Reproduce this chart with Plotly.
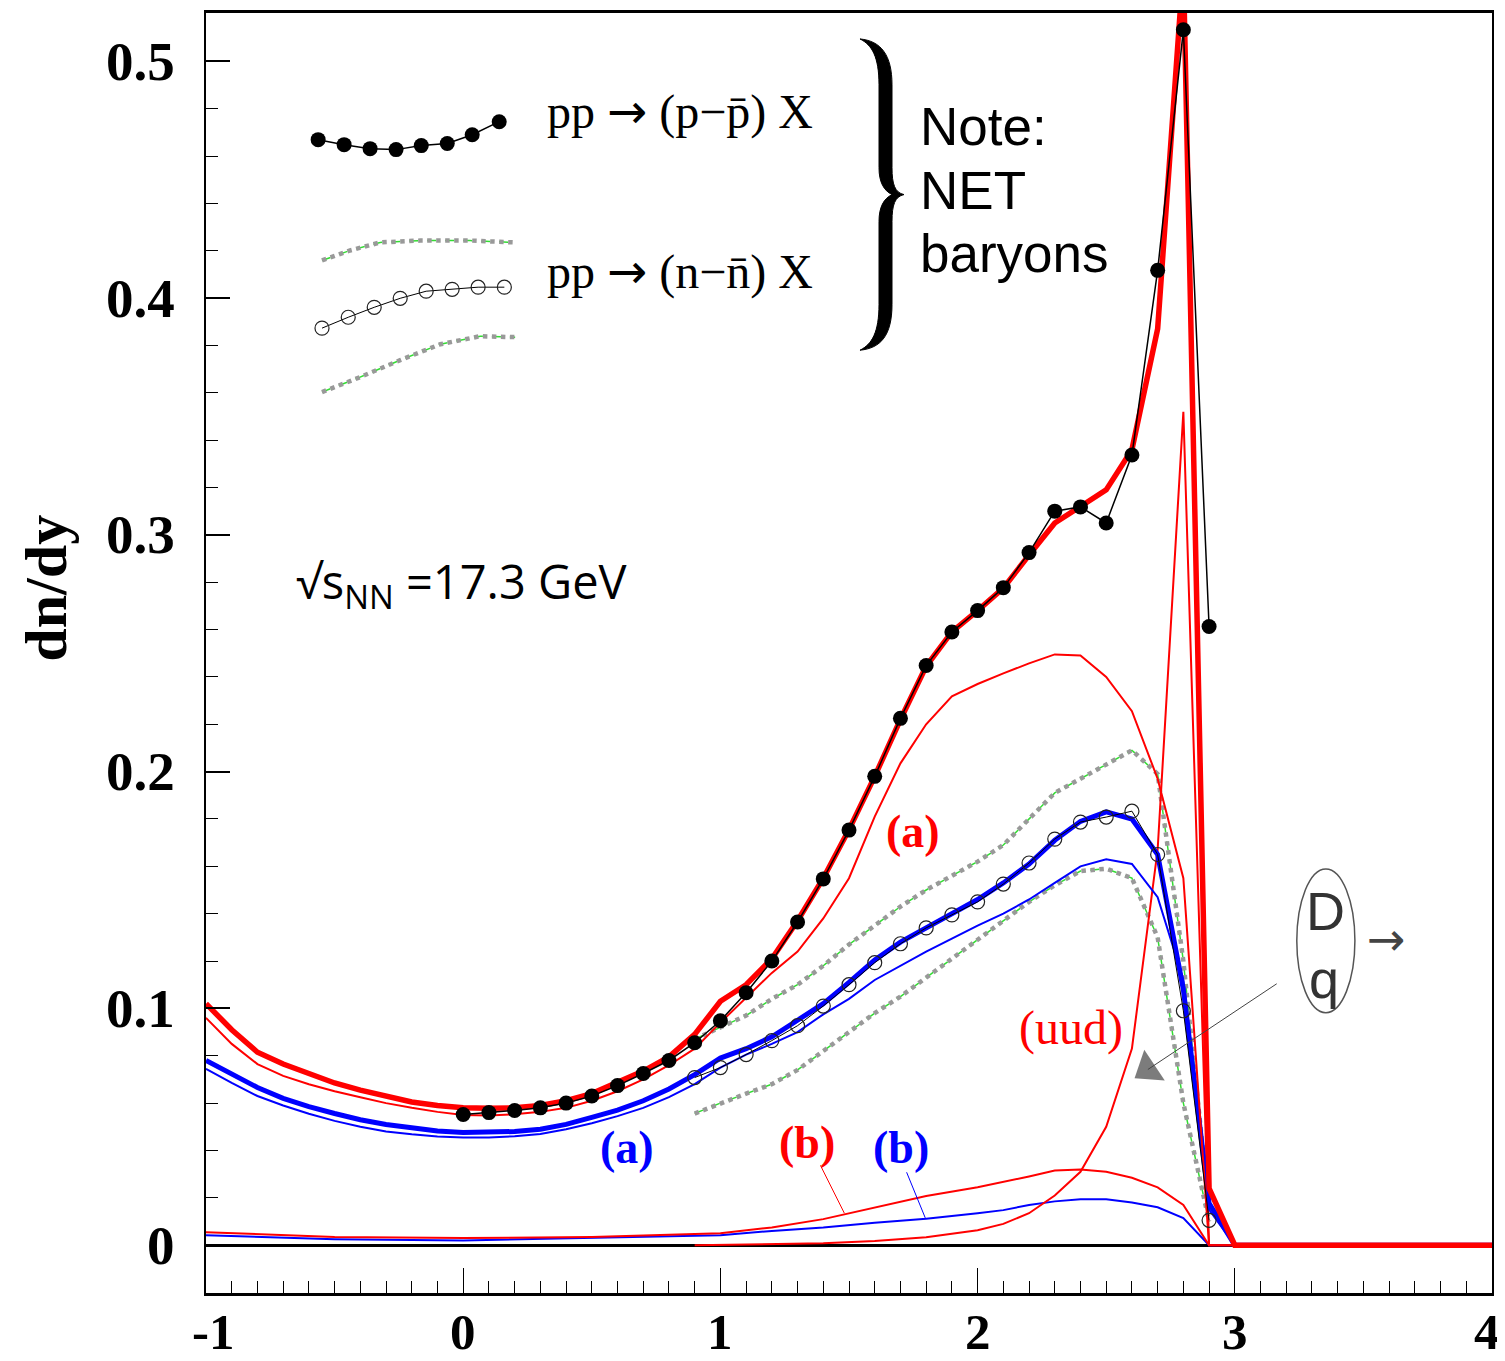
import plotly.graph_objects as go

# ---------------- data ----------------
# measured pp -> (p - pbar) X  (net protons)
x_pp = [round(0.1 * i, 1) for i in range(30)]
y_pp = [0.0552, 0.056, 0.0569, 0.058, 0.060, 0.063, 0.0674, 0.0725, 0.078, 0.0855,
        0.0948, 0.1066, 0.120, 0.1365, 0.1547, 0.1753, 0.198, 0.2225, 0.2448, 0.259,
        0.268, 0.2777, 0.2925, 0.310, 0.3118, 0.305, 0.3337, 0.4117, 0.5133, 0.2613]

# pp -> (n - nbar) X
x_nn = [round(0.9 + 0.1 * i, 1) for i in range(21)]
y_nn = [0.0708, 0.075, 0.0805, 0.0864, 0.0927, 0.101, 0.110, 0.1193, 0.1273, 0.134,
        0.1395, 0.145, 0.1525, 0.1614, 0.1715, 0.1787, 0.1808, 0.1833, 0.165, 0.099, 0.0105]

# uncertainty band for n - nbar
band_hi = [0.087, 0.092, 0.097, 0.104, 0.110, 0.118, 0.127, 0.135, 0.143, 0.150, 0.156,
           0.162, 0.169, 0.180, 0.191, 0.197, 0.203, 0.209, 0.199, 0.12, 0.015]
band_lo = [0.0556, 0.060, 0.064, 0.068, 0.074, 0.082, 0.090, 0.098, 0.105, 0.113, 0.121,
           0.129, 0.137, 0.145, 0.152, 0.158, 0.159, 0.155, 0.13, 0.06, 0.01]

# model curves on full rapidity grid
x_full = [round(-1.0 + 0.1 * i, 1) for i in range(40)] + [3.0, 4.0]
red_total = [0.102, 0.091, 0.0815, 0.0765, 0.0725, 0.0685, 0.0655, 0.063, 0.0605, 0.059,
             0.058, 0.0578, 0.058, 0.059, 0.061, 0.064, 0.0685, 0.0735, 0.0795, 0.089,
             0.103, 0.110, 0.121, 0.137, 0.155, 0.1755, 0.198, 0.222, 0.2445, 0.259,
             0.268, 0.2775, 0.2915, 0.305, 0.312, 0.319, 0.336, 0.387, 0.54, 0.024,
             0.0, 0.0]
red_a = [0.096, 0.085, 0.0765, 0.0715, 0.068, 0.065, 0.0625, 0.060, 0.058, 0.0563,
         0.055, 0.0548, 0.0553, 0.0563, 0.058, 0.061, 0.065, 0.070, 0.076, 0.083,
         0.094, 0.1045, 0.115, 0.124, 0.138, 0.155, 0.181, 0.2035, 0.22, 0.2318,
         0.237, 0.2415, 0.2457, 0.2495, 0.249, 0.240, 0.2255, 0.197, 0.155, 0.0,
         0.0, 0.0]
blue_total = [0.078, 0.072, 0.0666, 0.062, 0.0585, 0.0556, 0.053, 0.051, 0.0495, 0.0482,
              0.0476, 0.0476, 0.048, 0.049, 0.051, 0.054, 0.057, 0.061, 0.066, 0.072,
              0.079, 0.083, 0.088, 0.095, 0.102, 0.111, 0.1205, 0.128, 0.134, 0.140,
              0.146, 0.153, 0.161, 0.171, 0.179, 0.183, 0.180, 0.165, 0.108, 0.0177,
              0.0, 0.0]
blue_a = [0.0745, 0.0685, 0.063, 0.059, 0.0555, 0.0525, 0.050, 0.048, 0.0468, 0.0459,
          0.0455, 0.0455, 0.046, 0.047, 0.049, 0.0515, 0.0545, 0.058, 0.0625, 0.068,
          0.075, 0.0805, 0.085, 0.090, 0.0975, 0.104, 0.112, 0.118, 0.124, 0.1295,
          0.135, 0.140, 0.146, 0.153, 0.160, 0.163, 0.161, 0.147, 0.112, 0.015,
          0.0, 0.0]

# (b) components
x_b = [-1.0, -0.5, 0.0, 0.5, 1.0, 1.2, 1.4, 1.6, 1.8, 2.0, 2.1, 2.2, 2.3, 2.4, 2.5,
       2.6, 2.7, 2.8, 2.9, 4.0]
red_b = [0.0055, 0.0035, 0.003, 0.0035, 0.005, 0.0075, 0.011, 0.016, 0.0208, 0.0245,
         0.0267, 0.029, 0.0315, 0.032, 0.031, 0.0285, 0.0244, 0.017, 0.0, 0.0]
blue_b = [0.0042, 0.0025, 0.002, 0.003, 0.0042, 0.006, 0.0075, 0.0095, 0.0112, 0.0135,
          0.0148, 0.017, 0.0185, 0.0194, 0.0194, 0.018, 0.016, 0.0114, 0.0, 0.0]

# (uud) diquark component
x_uud = [0.9, 1.2, 1.4, 1.6, 1.8, 2.0, 2.1, 2.2, 2.3, 2.4, 2.5, 2.6, 2.7, 2.8, 2.9]
y_uud = [0.0, 0.0003, 0.0008, 0.0018, 0.0033, 0.0063, 0.009, 0.0135, 0.021, 0.031,
         0.05, 0.083, 0.167, 0.352, 0.0]

# legend sample glyphs (drawn in the upper-left corner)
leg_pp_x = [-0.564, -0.463, -0.362, -0.261, -0.163, -0.062, 0.035, 0.14]
leg_pp_y = [0.4669, 0.4648, 0.4631, 0.4627, 0.4644, 0.4653, 0.469, 0.4745]
leg_nn_x = [-0.549, -0.447, -0.346, -0.245, -0.144, -0.043, 0.058, 0.160]
leg_nn_y = [0.3873, 0.3919, 0.3961, 0.3999, 0.4029, 0.4037, 0.4046, 0.4046]
leg_hi_x = [-0.549, -0.44, -0.323, -0.167, 0.027, 0.202]
leg_hi_y = [0.4159, 0.4201, 0.4235, 0.4243, 0.4243, 0.4235]
leg_lo_x = [-0.549, -0.401, -0.245, -0.089, 0.066, 0.202]
leg_lo_y = [0.3603, 0.3666, 0.3738, 0.3805, 0.3839, 0.3835]

# pointer arrow from the "D q" marker (tail, head centre)
pointer_x = [3.163, 2.662]
pointer_y = [0.1104, 0.0742]

y_ticks = [0.0, 0.1, 0.2, 0.3, 0.4, 0.5]
y_tick_text = ["0", "0.1", "0.2", "0.3", "0.4", "0.5"]
x_ticks = [-1, 0, 1, 2, 3, 4]
x_tick_text = ["-1", "0", "1", "2", "3", "4"]

# ---------------- figure ----------------
# the page body has an 8px default margin: the figure is sized to compensate
BODY = 8
W, H = 1505 - BODY, 1361 - BODY
PLOT_L, PLOT_R, PLOT_T, PLOT_B = 206, 1492, 10, 1293      # in page pixels
ML, MT = PLOT_L - BODY, PLOT_T - BODY
MR, MB = (BODY + W) - PLOT_R, (BODY + H) - PLOT_B
PW, PH = PLOT_R - PLOT_L, PLOT_B - PLOT_T


def paper(px, py):
    return (px - PLOT_L) / PW, (PLOT_B - py) / PH


RED = "#ff0000"
BLUE = "#0000ff"
GRAY = "#999999"
GREEN = "#33dd33"
SERIF = "Liberation Serif, Times New Roman, serif"
SANS = "Liberation Sans, Arial, sans-serif"
ARROWFONT = "DejaVu Sans"

fig = go.Figure()


def line(x, y, color, width, dash="solid"):
    fig.add_trace(go.Scatter(x=x, y=y, mode="lines",
                             line=dict(color=color, width=width, dash=dash),
                             hoverinfo="skip", showlegend=False))


# bands: green dashes beneath gray dots
for bx, by in [(x_nn, band_hi), (x_nn, band_lo), (leg_hi_x, leg_hi_y), (leg_lo_x, leg_lo_y)]:
    line(bx, by, GREEN, 1.5, "dash")
    line(bx, by, GRAY, 4.5, "dot")

line(x_b, blue_b, BLUE, 2)
line(x_b, red_b, RED, 2)
line(x_uud, y_uud, RED, 2)
line(x_full, blue_a, BLUE, 2)
line(x_full, blue_total, BLUE, 5)
line(x_full, red_a, RED, 2)
line(x_full, red_total, RED, 5.5)

# n - nbar open circles
for xx, yy in [(x_nn, y_nn), (leg_nn_x, leg_nn_y)]:
    fig.add_trace(go.Scatter(x=xx, y=yy, mode="lines+markers",
                             line=dict(color="black", width=1),
                             marker=dict(symbol="circle-open", size=14,
                                         color="#222", line=dict(width=1.2)),
                             hoverinfo="skip", showlegend=False))
# p - pbar filled circles
for xx, yy in [(x_pp, y_pp), (leg_pp_x, leg_pp_y)]:
    fig.add_trace(go.Scatter(x=xx, y=yy, mode="lines+markers",
                             line=dict(color="black", width=1.5),
                             marker=dict(symbol="circle", size=15, color="black"),
                             hoverinfo="skip", showlegend=False))

# pointer arrow (line with a filled triangular head at its end)
fig.add_trace(go.Scatter(x=pointer_x, y=pointer_y, mode="lines+markers",
                         line=dict(color="#444", width=1),
                         marker=dict(symbol="triangle-up", size=[0, 32], color="#444",
                                     angleref="previous", line=dict(width=0)),
                         hoverinfo="skip", showlegend=False))

ann = []

# tick labels
for v, t in zip(y_ticks, y_tick_text):
    ann.append(dict(x=paper(177, 0)[0], xref="paper", y=v, yref="y", text=t,
                    xanchor="right", yanchor="middle", showarrow=False,
                    font=dict(family=SERIF, size=55, color="black", weight="bold")))
for v, t in zip(x_ticks, x_tick_text):
    shift = 7 if v == -1 else (-5 if v == 4 else 0)
    ann.append(dict(x=v, xref="x", y=paper(0, 1332)[1], yref="paper", text=t,
                    xanchor="center", yanchor="middle", xshift=shift, borderpad=0,
                    showarrow=False,
                    font=dict(family=SERIF, size=51, color="black", weight="bold")))

# axis title
ann.append(dict(x=paper(46, 0)[0], xref="paper", y=paper(0, 587)[1], yref="paper",
                text="<b>dn/dy</b>", textangle=-90, showarrow=False,
                xanchor="center", yanchor="middle",
                font=dict(family=SERIF, size=60, color="black")))

# legend texts
arrow_span = "<span style='font-family:%s'>\u2192</span>" % ARROWFONT
ann.append(dict(x=0.319, y=0.4792, xref="x", yref="y", xanchor="left", yanchor="middle",
                text="pp " + arrow_span + " (p\u2212p\u0304) X", showarrow=False,
                font=dict(family=SERIF, size=48, color="black")))
ann.append(dict(x=0.319, y=0.4113, xref="x", yref="y", xanchor="left", yanchor="middle",
                text="pp " + arrow_span + " (n\u2212n\u0304) X", showarrow=False,
                font=dict(family=SERIF, size=48, color="black")))

for txt, py in [("Note:", 124), ("NET", 188), ("baryons", 251)]:
    px_, py_ = paper(918, py)
    ann.append(dict(x=px_, y=py_, xref="paper", yref="paper", xanchor="left",
                    yanchor="middle", text=txt, showarrow=False,
                    font=dict(family=SANS, size=53, color="black")))

# energy label
ann.append(dict(x=paper(294, 0)[0], y=paper(0, 582)[1], xref="paper", yref="paper",
                xanchor="left", yanchor="middle",
                text="\u221as<sub>NN</sub> =17.3 GeV", showarrow=False,
                font=dict(family="Open Sans, Noto Sans, sans-serif", size=47, color="black")))


# curve labels
def lab(x, y, t, color, size=46, bold=True):
    ann.append(dict(x=x, y=y, xref="x", yref="y", text=("<b>%s</b>" % t) if bold else t,
                    showarrow=False, xanchor="center", yanchor="middle",
                    font=dict(family=SERIF, size=size, color=color)))


lab(1.747, 0.1749, "(a)", RED)
lab(0.638, 0.0413, "(a)", BLUE)
lab(1.335, 0.0434, "(b)", RED)
lab(1.704, 0.0413, "(b)", BLUE)
lab(2.362, 0.0919, "(uud)", RED, size=48, bold=False)

# D / q marker
ann.append(dict(x=3.354, y=0.1412, xref="x", yref="y", text="D", showarrow=False,
                font=dict(family=SANS, size=54, color="#333")))
ann.append(dict(x=3.345, y=0.1125, xref="x", yref="y", text="q", showarrow=False,
                font=dict(family=SANS, size=54, color="#333")))
ann.append(dict(x=3.588, y=0.1295, xref="x", yref="y", text="\u2192", showarrow=False,
                font=dict(family=ARROWFONT, size=46, color="#444")))

shapes = []
# leader lines from (b) labels
shapes.append(dict(type="line", xref="x", yref="y", x0=1.389, y0=0.0337, x1=1.482,
                   y1=0.0135, line=dict(color=RED, width=1)))
shapes.append(dict(type="line", xref="x", yref="y", x0=1.724, y0=0.0308, x1=1.797,
                   y1=0.0114, line=dict(color=BLUE, width=1)))
# ellipse around D q
shapes.append(dict(type="circle", xref="x", yref="y", x0=3.241, x1=3.467, y0=0.0982,
                   y1=0.1589, line=dict(color="#555", width=1.5)))

# curly brace (page-pixel outline converted to paper units)
brace_px = [
    ("M", [(860, 36)]),
    ("C", [(881, 38), (892, 52), (892, 82)]),
    ("L", [(892, 165)]),
    ("C", [(892, 182), (895, 190), (904, 192)]),
    ("C", [(895, 194), (892, 202), (892, 219)]),
    ("L", [(892, 302)]),
    ("C", [(892, 333), (881, 346), (860, 348)]),
    ("C", [(872, 342), (879, 330), (879, 302)]),
    ("L", [(879, 219)]),
    ("C", [(879, 204), (884, 196), (892, 192)]),
    ("C", [(884, 188), (879, 180), (879, 165)]),
    ("L", [(879, 82)]),
    ("C", [(879, 54), (872, 42), (860, 36)]),
]
path = ""
for cmd, pts in brace_px:
    path += cmd + " " + " ".join("%.5f,%.5f" % paper(a, b) for a, b in pts) + " "
path += "Z"
shapes.append(dict(type="path", xref="paper", yref="paper", path=path,
                   fillcolor="black", line=dict(color="black", width=1)))

fig.update_layout(
    width=W, height=H, autosize=False,
    margin=dict(l=ML, r=MR, t=MT, b=MB, pad=0),
    paper_bgcolor="white", plot_bgcolor="white",
    showlegend=False,
    annotations=ann, shapes=shapes,
    xaxis=dict(range=[-1, 4], showgrid=False, zeroline=False,
               showline=True, linecolor="black", linewidth=3, mirror=True,
               ticks="inside", ticklen=25, tickwidth=1.2, tickcolor="black",
               tick0=0, dtick=1, showticklabels=False,
               minor=dict(ticks="inside", ticklen=12, dtick=0.1, tickwidth=1,
                          tickcolor="black", showgrid=False)),
    yaxis=dict(range=[-0.0202, 0.5204], showgrid=False,
               zeroline=True, zerolinecolor="black", zerolinewidth=2.5,
               showline=True, linecolor="black", linewidth=2, mirror=True,
               ticks="inside", ticklen=24, tickwidth=1.5, tickcolor="black",
               tick0=0, dtick=0.1, showticklabels=False,
               minor=dict(ticks="inside", ticklen=12, dtick=0.02, tickwidth=1,
                          tickcolor="black", showgrid=False)),
)

fig.write_html("out.html")
